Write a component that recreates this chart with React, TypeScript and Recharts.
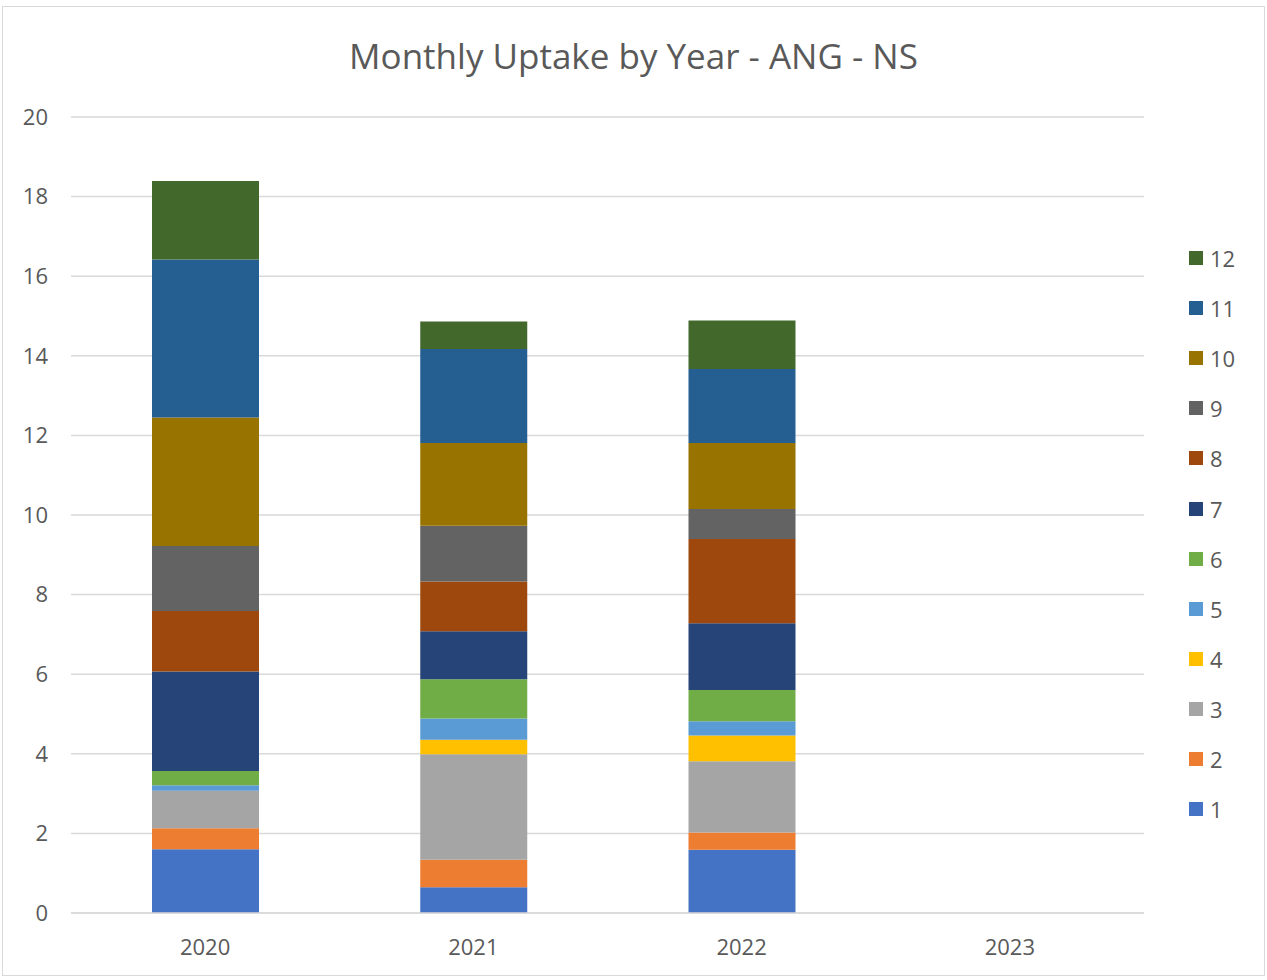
import React from "react";
import { BarChart, Bar, XAxis, YAxis, CartesianGrid } from "recharts";

const years = ["2020", "2021", "2022", "2023"];
const months = ["1", "2", "3", "4", "5", "6", "7", "8", "9", "10", "11", "12"];
const colors = [
  "#4472C4", "#ED7D31", "#A5A5A5", "#FFC000", "#5B9BD5", "#70AD47",
  "#264478", "#9E480E", "#636363", "#997300", "#255E91", "#43682B",
];
const y2020 = [1.6, 0.53, 0.94, 0, 0.14, 0.36, 2.5, 1.52, 1.63, 3.23, 3.97, 1.97];
const y2021 = [0.65, 0.69, 2.65, 0.36, 0.54, 0.98, 1.21, 1.25, 1.4, 2.08, 2.36, 0.69];
const y2022 = [1.59, 0.43, 1.79, 0.65, 0.36, 0.78, 1.68, 2.12, 0.75, 1.66, 1.86, 1.22];
const y2023 = [0, 0, 0, 0, 0, 0, 0, 0, 0, 0, 0, 0];
const yTicks = [0, 2, 4, 6, 8, 10, 12, 14, 16, 18, 20];

const perYear = [y2020, y2021, y2022, y2023];
const data = years.map((y, i) => {
  const row: Record<string, string | number> = { year: y };
  months.forEach((m, j) => {
    row["m" + m] = perYear[i][j];
  });
  return row;
});

const FONT = "'Open Sans', 'Noto Sans', sans-serif";
const TXT = "#595959";

function LegendBox() {
  const items = months.map((m, i) => ({ m, c: colors[i] })).reverse();
  return (
    <div style={{ position: "absolute", left: 1189, top: 233, fontFamily: FONT }}>
      {items.map((it) => (
        <div
          key={it.m}
          style={{ display: "flex", alignItems: "center", height: 50.1 }}
        >
          <div style={{ width: 14, height: 14, background: it.c, marginRight: 7 }} />
          <span style={{ fontSize: 22, color: TXT }}>{it.m}</span>
        </div>
      ))}
    </div>
  );
}

export default function App() {
  return (
    <div
      style={{
        position: "absolute",
        left: 0,
        top: 0,
        width: 1267,
        height: 980,
        background: "#fff",
      }}
    >
      <div
        style={{
          position: "absolute",
          left: 2,
          top: 6,
          width: 1261,
          height: 968,
          border: "1.5px solid #d9d9d9",
        }}
      />
      <div
        style={{
          position: "absolute",
          left: 0,
          width: 1267,
          top: 33,
          textAlign: "center",
          fontFamily: FONT,
          fontSize: 35,
          color: TXT,
          lineHeight: "46px",
        }}
      >
        Monthly Uptake by Year - ANG - NS
      </div>
      <div style={{ position: "absolute", left: 0, top: 0 }}>
        <BarChart
          width={1267}
          height={980}
          data={data}
          margin={{ top: 117, right: 123, bottom: 0, left: 0 }}
        >
          <CartesianGrid
            vertical={false}
            stroke="#d9d9d9"
            strokeWidth={1.5}
          />
          <XAxis
            dataKey="year"
            height={67}
            axisLine={{ stroke: "#d9d9d9", strokeWidth: 1.5 }}
            tickLine={false}
            tickSize={0}
            tickMargin={26}
            tick={{ fill: TXT, fontSize: 22, fontFamily: FONT }}
          />
          <YAxis
            width={71}
            domain={[0, 20]}
            ticks={yTicks}
            axisLine={false}
            tickLine={false}
            tickSize={0}
            tickMargin={23}
            tick={{ fill: TXT, fontSize: 22, fontFamily: FONT }}
          />
          {months.map((m, i) => (
            <Bar
              key={m}
              dataKey={"m" + m}
              name={m}
              stackId="a"
              fill={colors[i]}
              barSize={107}
              isAnimationActive={false}
            />
          ))}
        </BarChart>
      </div>
      <LegendBox />
    </div>
  );
}
